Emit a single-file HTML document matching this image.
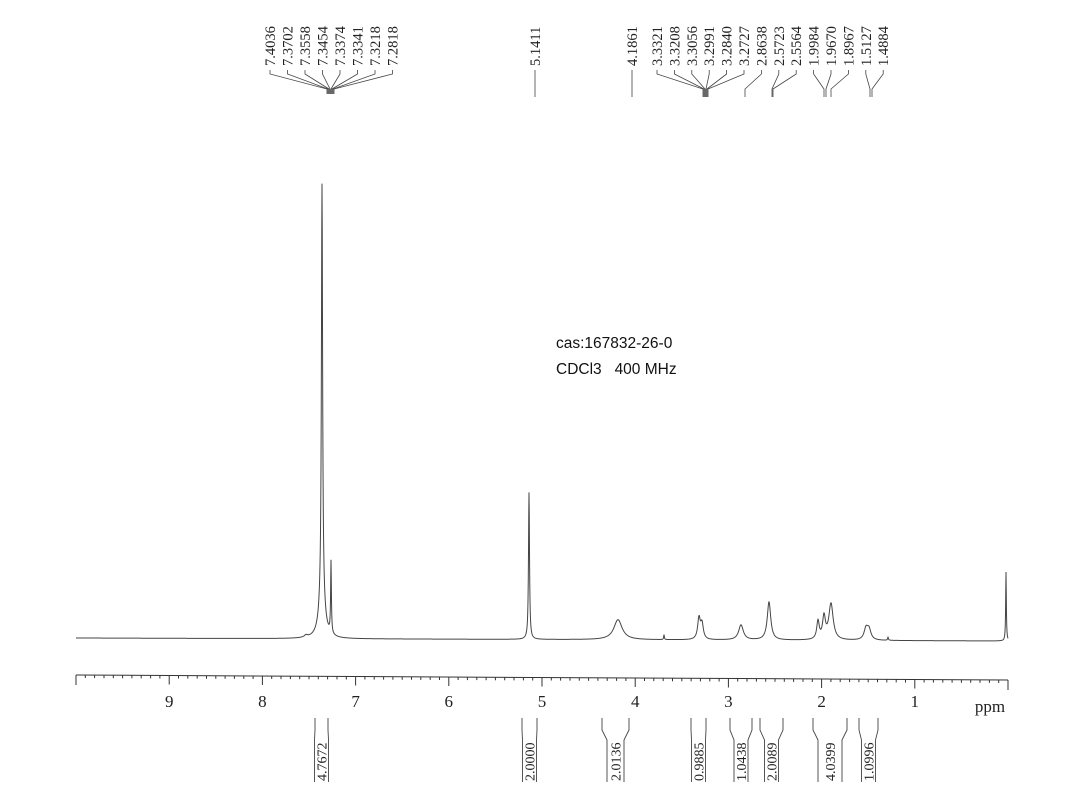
<!DOCTYPE html>
<html><head><meta charset="utf-8"><style>
html,body{margin:0;padding:0;background:#fff;}
svg{display:block;}
</style></head><body>
<svg id="s" width="1088" height="811" xmlns="http://www.w3.org/2000/svg">
<g font-family="Liberation Sans, sans-serif" font-size="15.5" fill="#111">
<text x="556" y="348">cas:167832-26-0</text>
<text x="556" y="374" xml:space="preserve">CDCl3   400 MHz</text>
</g>
<path id="spec" fill="none" stroke="#444" stroke-width="1"/>
<g id="axis" stroke="#333" stroke-width="1" fill="none"></g>
<g id="ax" font-family="Liberation Serif, serif" font-size="17" fill="#222" text-anchor="middle"></g>
<g id="top" font-family="Liberation Serif, serif" font-size="14.5" fill="#222"></g>
<g id="tl" stroke="#444" stroke-width="0.8" fill="none"></g>
<g id="int" font-family="Liberation Serif, serif" font-size="14" fill="#222"></g>
<g id="il" stroke="#444" stroke-width="0.9" fill="none"></g>
</svg>
<script>
var NS="http://www.w3.org/2000/svg";
function el(p,t,a,txt){var e=document.createElementNS(NS,t);for(var k in a)e.setAttribute(k,a[k]);if(txt!==undefined)e.textContent=txt;document.getElementById(p).appendChild(e);return e;}
var pk=[[322,415,0.7],[322,40,3.2],[331,72,0.45],[529,147,0.6],[618,20,5],[664,5,0.4],[699,21,1.6],[702,15,1.6],[741,15,2.8],[769,38,2.1],[818,18,1.5],[824,22,1.7],[831,36,2.6],[866,11,2.3],[869,10,2.3],[888,3,0.5],[1006,69,0.4],[306,2,2]];
var d="";
for(var x=76;x<=1008;x+=0.25){var b=638+(x-76)*3/932;var y=b;for(var i=0;i<pk.length;i++){var q=(x-pk[i][0])/pk[i][2];y-=pk[i][1]/(1+q*q);}d+=(x==76?"M":"L")+x.toFixed(2)+" "+y.toFixed(2);}
document.getElementById("spec").setAttribute("d",d);
el("axis","path",{d:"M76 675 L1008 680"});
el("axis","path",{d:"M76 675 L76 685 M1008 680 L1008 690"});
for(var p=0;p<=10.01;p+=0.1){var xx=1008-93.2*p;var yy=675+(xx-76)*5/932;var big=Math.abs(p-Math.round(p))<0.01;el("axis","path",{d:"M"+xx.toFixed(1)+" "+yy.toFixed(1)+"L"+xx.toFixed(1)+" "+(yy+(big?9:3)).toFixed(1)});
 if(big&&Math.round(p)>=1&&Math.round(p)<=9)el("ax","text",{x:xx,y:707},String(Math.round(p)));}
el("ax","text",{x:990,y:712},"ppm");
function lbl(x,t){el("top","text",{transform:"translate("+(x+5)+",66) rotate(-90)"},t);}
var g1=["7.4036","7.3702","7.3558","7.3454","7.3374","7.3341","7.3218","7.2818"];
for(var i=0;i<8;i++){var x=270+i*17.5;lbl(x,g1[i]);el("tl","path",{d:"M"+x+" 70 L"+x+" 74 L"+(327+i*1)+" 89 L"+(327+i*1)+" 94"});}
lbl(535,"5.1411");el("tl","path",{d:"M535 70 L535 97"});
lbl(632,"4.1861");el("tl","path",{d:"M632 70 L632 97"});
var g2=["3.3321","3.3208","3.3056","3.2991","3.2840","3.2727","2.8638","2.5723","2.5564","1.9984","1.9670","1.8967","1.5127","1.4884"];
var ends=[703,704,705,706,707,708,745,772,773,824,826,831,870,872];
for(var i=0;i<14;i++){var x=657+i*17.4;lbl(x,g2[i]);el("tl","path",{d:"M"+x+" 70 L"+x+" 74 L"+ends[i]+" 89 L"+ends[i]+" 97"});}
var ints=[[315,328,"4.7672"],[522,537,"2.0000"],[602,629,"2.0136"],[691,706,"0.9885"],[730,752,"1.0438"],[760,783,"2.0089"],[813,847,"4.0399"],[859,878,"1.0996"]];
ints.forEach(function(a){var x1=a[0],x2=a[1],m=(x1+x2)/2;var l=Math.min(m-7,x1+5),r=Math.max(m+7,x2-5);
 el("il","path",{d:"M"+x1+" 718 L"+x1+" 730 L"+l+" 740 L"+l+" 782"});
 el("il","path",{d:"M"+x2+" 718 L"+x2+" 730 L"+r+" 740 L"+r+" 782"});
 el("int","text",{transform:"translate("+(m+5)+",781) rotate(-90)"},a[2]);});
</script>
</body></html>
